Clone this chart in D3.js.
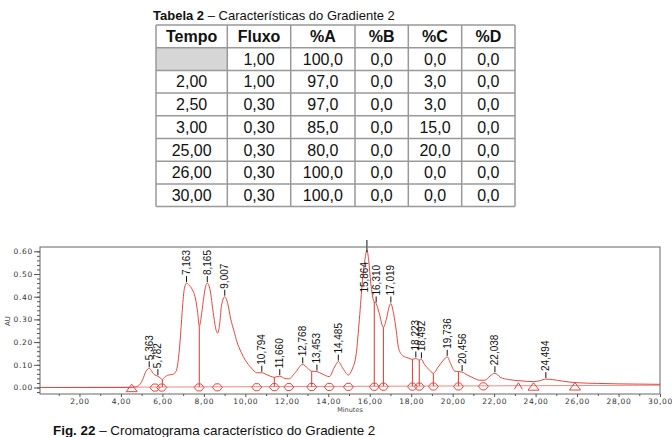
<!DOCTYPE html>
<html>
<head>
<meta charset="utf-8">
<script src="https://cdn.jsdelivr.net/npm/d3@7"></script>
<style>
  body { margin: 0; background: #fff; }
  svg { display: block; }
  .cell text { font-family: "Liberation Sans", Arial, sans-serif; font-size: 16px; fill: #111; }
  .axis text { font-family: "DejaVu Sans", sans-serif; font-size: 7.5px; fill: #333; letter-spacing: 0.7px; }
  .axis line { stroke: #555; }
  .axis .domain { display: none; }
</style>
</head>
<body>
<script>
// ---- table data ----
var tableHeaders = ["Tempo", "Fluxo", "%A", "%B", "%C", "%D"];
var colTempo = ["", "2,00", "2,50", "3,00", "25,00", "26,00", "30,00"];
var colFluxo = ["1,00", "1,00", "0,30", "0,30", "0,30", "0,30", "0,30"];
var colA = ["100,0", "97,0", "97,0", "85,0", "80,0", "100,0", "100,0"];
var colB = ["0,0", "0,0", "0,0", "0,0", "0,0", "0,0", "0,0"];
var colC = ["0,0", "3,0", "3,0", "15,0", "20,0", "0,0", "0,0"];
var colD = ["0,0", "0,0", "0,0", "0,0", "0,0", "0,0", "0,0"];

// ---- chromatogram data (minutes, AU) ----
var traceTime = [0, 4.4, 4.7, 4.9, 5.05, 5.2, 5.363, 5.5, 5.62, 5.782, 5.9, 6.0, 6.1, 6.3, 6.5, 6.65,
  6.75, 6.85, 6.95, 7.05, 7.163, 7.3, 7.5, 7.6, 7.7, 7.78, 7.9, 8.0, 8.1, 8.165, 8.3, 8.45, 8.6, 8.67,
  8.75, 8.85, 9.007, 9.15, 9.3, 9.45, 9.6, 9.8, 10.0, 10.3, 10.55, 10.794, 11.0, 11.2, 11.4, 11.66,
  11.9, 12.1, 12.4, 12.768, 13.0, 13.2, 13.453, 13.7, 14.05, 14.3, 14.485, 14.7, 14.97, 15.15, 15.35,
  15.5, 15.65, 15.78, 15.864, 15.95, 16.05, 16.2, 16.31, 16.45, 16.66, 16.8, 16.92, 17.019, 17.12,
  17.25, 17.4, 17.6, 17.85, 18.06, 18.223, 18.39, 18.492, 18.65, 18.85, 19.07, 19.3, 19.55, 19.736,
  19.9, 20.1, 20.28, 20.456, 20.7, 21.0, 21.3, 21.55, 21.8, 22.038, 22.3, 22.7, 23.2, 23.9, 24.2,
  24.494, 24.8, 25.3, 26.0, 27.0, 28.0, 29.0, 30.0];
var traceAU = [0, 0, 0.003, 0.012, 0.035, 0.07, 0.085, 0.07, 0.056, 0.05, 0.042, 0.035, 0.045, 0.055, 0.058, 0.07,
  0.11, 0.2, 0.33, 0.43, 0.46, 0.45, 0.42, 0.39, 0.33, 0.27, 0.33, 0.40, 0.45, 0.46, 0.43, 0.33, 0.25, 0.24,
  0.27, 0.36, 0.40, 0.37, 0.30, 0.25, 0.20, 0.155, 0.12, 0.085, 0.065, 0.065, 0.058, 0.05, 0.045, 0.05,
  0.04, 0.038, 0.065, 0.102, 0.085, 0.072, 0.07, 0.06, 0.048, 0.09, 0.114, 0.085, 0.055, 0.08, 0.15,
  0.30, 0.47, 0.57, 0.605, 0.56, 0.46, 0.38, 0.37, 0.33, 0.265, 0.30, 0.35, 0.37, 0.34,
  0.27, 0.17, 0.14, 0.13, 0.124, 0.128, 0.121, 0.124, 0.10, 0.08, 0.063, 0.09, 0.12, 0.135,
  0.105, 0.072, 0.07, 0.068, 0.055, 0.042, 0.032, 0.032, 0.05, 0.063, 0.045, 0.035, 0.03, 0.026, 0.03,
  0.037, 0.035, 0.028, 0.021, 0.018, 0.016, 0.015, 0.014];

var peakTimes = [5.363, 5.782, 7.163, 8.165, 9.007, 10.794, 11.660, 12.768, 13.453, 14.485, 15.864,
  16.310, 17.019, 18.223, 18.492, 19.736, 20.456, 22.038, 24.494];
var peakLabels = ["5,363", "5,782", "7,163", "8,165", "9,007", "10,794", "11,660", "12,768", "13,453",
  "14,485", "15,864", "16,310", "17,019", "18,223", "18,492", "19,736", "20,456", "22,038", "24,494"];

var dropTimes = [6.0, 7.78, 11.4, 13.2, 16.22, 16.66, 18.06, 18.39, 19.07, 20.28];
var diamondTimes = [5.64, 5.97, 7.77, 8.65, 10.55, 11.4, 12.1, 13.2, 14.05, 14.97, 16.22, 16.66,
  18.06, 18.39, 19.07, 20.28, 21.48];
var triangleTimes = [4.52, 23.9, 25.9];
var caretTimes = [23.17];
var baselineAU = [0, 0.01]; // integration baseline at 0 and 30 min

var xTicks = d3.range(2, 31, 2);
var yTicks = [0, 0.1, 0.2, 0.3, 0.4, 0.5, 0.6];

var W = 672, H = 437;
var svg = d3.select("body").append("svg").attr("width", W).attr("height", H);

/*** Title ***/
var title = svg.append("text").attr("x", 153).attr("y", 19.5)
  .style("font-family", "Liberation Sans, Arial, sans-serif").style("font-size", "13px").attr("fill", "#111");
title.append("tspan").style("font-weight", "bold").text("Tabela 2");
title.append("tspan").text(" \u2013 Características do Gradiente 2");

/*** Table ***/
var colEdges = [156, 227.3, 290.7, 355, 408.3, 461.7, 515];
var rowTop = 25, rowH = 22.7;
var columns = [colTempo, colFluxo, colA, colB, colC, colD];
var tbl = svg.append("g").attr("class", "cell");

// gray empty cell
tbl.append("rect").attr("x", colEdges[0]).attr("y", rowTop + rowH)
  .attr("width", colEdges[1] - colEdges[0]).attr("height", rowH).attr("fill", "#d6d6d6");

tableHeaders.forEach(function(h, i) {
  var cx = (colEdges[i] + colEdges[i + 1]) / 2;
  tbl.append("text").attr("x", cx).attr("y", rowTop + rowH / 2 + 5.7)
    .attr("text-anchor", "middle").style("font-weight", "bold").text(h);
  columns[i].forEach(function(v, r) {
    tbl.append("text").attr("x", cx).attr("y", rowTop + (r + 1) * rowH + rowH / 2 + 5.7)
      .attr("text-anchor", "middle").text(v);
  });
});
var nRows = colTempo.length + 1;
for (var r = 0; r <= nRows; r++) {
  tbl.append("line").attr("x1", colEdges[0]).attr("x2", colEdges[colEdges.length - 1])
    .attr("y1", rowTop + r * rowH).attr("y2", rowTop + r * rowH)
    .attr("stroke", "#999").attr("stroke-width", 1.5);
}
colEdges.forEach(function(e) {
  tbl.append("line").attr("x1", e).attr("x2", e)
    .attr("y1", rowTop).attr("y2", rowTop + nRows * rowH)
    .attr("stroke", "#999").attr("stroke-width", 1.5);
});

/*** Chromatogram ***/
var frame = {left: 40, top: 247, right: 660, bottom: 394};
var xScale = d3.scaleLinear().domain([0, 30]).range([38, 660]);
var yScale = d3.scaleLinear().domain([0, 0.6]).range([387.5, 251.3]);

var interp = function(t) {
  var i = d3.bisectLeft(traceTime, t);
  if (i <= 0) return traceAU[0];
  if (i >= traceTime.length) return traceAU[traceAU.length - 1];
  var t0 = traceTime[i - 1], t1 = traceTime[i];
  return traceAU[i - 1] + (traceAU[i] - traceAU[i - 1]) * (t - t0) / (t1 - t0);
};
var baseAt = function(t) { return baselineAU[0] + (baselineAU[1] - baselineAU[0]) * t / 30; };

svg.append("clipPath").attr("id", "plotclip").append("rect")
  .attr("x", frame.left).attr("y", frame.top)
  .attr("width", frame.right - frame.left).attr("height", frame.bottom - frame.top);

var plot = svg.append("g").attr("clip-path", "url(#plotclip)");
var red = "#e4473f";

// integration baseline
plot.append("line")
  .attr("x1", xScale(0)).attr("y1", yScale(baselineAU[0]))
  .attr("x2", xScale(30)).attr("y2", yScale(baselineAU[1]))
  .attr("stroke", red).attr("stroke-width", 0.8).attr("opacity", 0.8);

// trace
var line = d3.line().curve(d3.curveMonotoneX)
  .x(function(d) { return xScale(d[0]); })
  .y(function(d) { return yScale(d[1]); });
plot.append("path").datum(d3.zip(traceTime, traceAU))
  .attr("d", line).attr("fill", "none").attr("stroke", red).attr("stroke-width", 1);

// drop lines
plot.selectAll(".drop").data(dropTimes).enter().append("line")
  .attr("x1", function(d) { return xScale(d); }).attr("x2", function(d) { return xScale(d); })
  .attr("y1", function(d) { return yScale(baseAt(d)); })
  .attr("y2", function(d) { return yScale(interp(d)); })
  .attr("stroke", red).attr("stroke-width", 1.1);

// markers
plot.selectAll(".dia").data(diamondTimes).enter().append("path")
  .attr("d", function(d) {
    var cx = xScale(d), cy = yScale(baseAt(d)) + 0.5;
    return "M" + (cx - 5) + "," + cy + "L" + (cx - 2) + "," + (cy - 3.5) + "L" + (cx + 2) + "," + (cy - 3.5) +
      "L" + (cx + 5) + "," + cy + "L" + (cx + 2) + "," + (cy + 3.5) + "L" + (cx - 2) + "," + (cy + 3.5) + "Z";
  })
  .attr("fill", "none").attr("stroke", red).attr("stroke-width", 1);
plot.selectAll(".tri").data(triangleTimes).enter().append("path")
  .attr("d", function(d) {
    var cx = xScale(d), cy = yScale(baseAt(d));
    return "M" + (cx - 5.5) + "," + (cy + 4.5) + "L" + cx + "," + (cy - 3) + "L" + (cx + 5.5) + "," + (cy + 4.5) + "Z";
  })
  .attr("fill", "none").attr("stroke", red).attr("stroke-width", 1);
plot.selectAll(".caret").data(caretTimes).enter().append("path")
  .attr("d", function(d) {
    var cx = xScale(d), cy = yScale(baseAt(d));
    return "M" + (cx - 4) + "," + (cy + 3.5) + "L" + cx + "," + (cy - 3) + "L" + (cx + 4) + "," + (cy + 3.5);
  })
  .attr("fill", "none").attr("stroke", red).attr("stroke-width", 1);

// peak labels
var lab = svg.append("g");
peakTimes.forEach(function(t, i) {
  var px = xScale(t), py = yScale(interp(t));
  var estLen = peakLabels[i].length * 5.4;
  if (py - 8 - estLen < frame.top) {
    lab.append("line").attr("x1", px).attr("x2", px)
      .attr("y1", frame.top - 7).attr("y2", py + 2).attr("stroke", "#111").attr("stroke-width", 1);
    lab.append("text").attr("transform", "translate(" + (px + 1) + "," + (frame.top + 15) + ")rotate(-90)")
      .attr("text-anchor", "end")
      .style("font-family", "Liberation Sans, Arial, sans-serif").style("font-size", "10px")
      .attr("fill", "#111").text(peakLabels[i]);
  } else {
    lab.append("line").attr("x1", px).attr("x2", px)
      .attr("y1", py - 1).attr("y2", py - 7).attr("stroke", "#111").attr("stroke-width", 1);
    lab.append("text").attr("transform", "translate(" + (px + 3.5) + "," + (py - 8) + ")rotate(-90)")
      .style("font-family", "Liberation Sans, Arial, sans-serif").style("font-size", "10px")
      .attr("fill", "#111").text(peakLabels[i]);
  }
});

// frame
svg.append("rect").attr("x", frame.left).attr("y", frame.top)
  .attr("width", frame.right - frame.left).attr("height", frame.bottom - frame.top)
  .attr("fill", "none").attr("stroke", "#666").attr("stroke-width", 1);

/*** Axes ***/
var xAxis = d3.axisBottom(xScale).tickValues(xTicks).tickSize(3).tickPadding(2)
  .tickFormat(function(d) { return d.toFixed(2).replace(".", ","); });
var xMinor = d3.axisBottom(xScale).tickValues(d3.range(1, 30, 2)).tickSize(2).tickFormat("");
svg.append("g").attr("class", "axis").attr("transform", "translate(0," + frame.bottom + ")").call(xAxis);
svg.append("g").attr("class", "axis").attr("transform", "translate(0," + frame.bottom + ")").call(xMinor);

var yAxis = d3.axisLeft(yScale).tickValues(yTicks).tickSize(6).tickPadding(1)
  .tickFormat(function(d) { return d.toFixed(2); });
var yMinor = d3.axisLeft(yScale).tickValues(d3.range(-0.02, 0.62, 0.02)).tickSize(3).tickFormat("");
svg.append("g").attr("class", "axis").attr("transform", "translate(" + frame.left + ",0)").call(yAxis);
svg.append("g").attr("class", "axis").attr("transform", "translate(" + frame.left + ",0)").call(yMinor);

svg.append("text").attr("x", 350).attr("y", 412).attr("text-anchor", "middle")
  .style("font-family", "DejaVu Sans, sans-serif").style("font-size", "6.5px").attr("fill", "#444")
  .text("Minutes");
svg.append("text").attr("transform", "translate(10,321)rotate(-90)").attr("text-anchor", "middle")
  .style("font-family", "DejaVu Sans, sans-serif").style("font-size", "7px").attr("fill", "#444")
  .text("AU");

/*** Caption ***/
var cap = svg.append("text").attr("x", 53).attr("y", 434.5)
  .style("font-family", "Liberation Sans, Arial, sans-serif").style("font-size", "13.4px").attr("fill", "#111");
cap.append("tspan").style("font-weight", "bold").text("Fig. 22");
cap.append("tspan").text(" \u2013 Cromatograma característico do Gradiente 2");
</script>
</body>
</html>
